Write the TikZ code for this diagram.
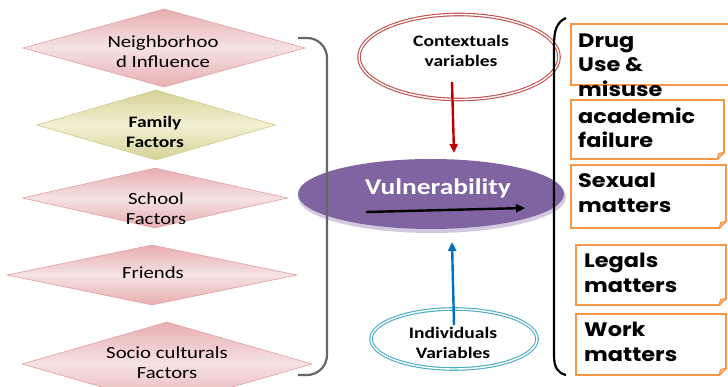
\documentclass[tikz,border=0pt]{standalone}
\usepackage{fontspec}
\setmainfont[FakeStretch=1.22]{Carlito}
\newfontfamily\gfont[FakeStretch=1.15]{Poppins}
\usetikzlibrary{shapes.geometric,arrows.meta,calc}
\definecolor{pinkedge}{HTML}{DFA0A2}
\definecolor{pinkdark}{HTML}{E8AEB0}
\definecolor{pinklight}{HTML}{F6E2E2}
\definecolor{oliveedge}{HTML}{CFCB8A}
\definecolor{olivedark}{HTML}{D6D296}
\definecolor{olivelight}{HTML}{F2F0D2}
\definecolor{ctxred}{HTML}{C0504D}
\definecolor{indblue}{HTML}{4BACC6}
\definecolor{vulpurple}{HTML}{8064A2}
\definecolor{noteorange}{HTML}{F79646}
\definecolor{foldorange}{HTML}{F9B27A}
\definecolor{arrred}{HTML}{C00000}
\definecolor{arrblue}{HTML}{0070C0}
\begin{document}
\begin{tikzpicture}[x=1pt,y=-1pt,
  pinkdia/.style={diamond, inner sep=0pt, draw=pinkedge, line width=0.6pt,
     top color=pinkdark, bottom color=pinkdark, middle color=pinklight},
  olivedia/.style={diamond, inner sep=0pt, draw=oliveedge, line width=0.6pt,
     top color=olivedark, bottom color=olivedark, middle color=olivelight},
  diatext/.style={align=center, inner sep=0pt, font=\fontsize{17}{20}\selectfont, text=black},
  boldtext/.style={align=center, inner sep=0pt, font=\bfseries\fontsize{16}{20}\selectfont, text=black},
  notebox/.style={rectangle, inner sep=0pt, draw=noteorange, line width=2pt, fill=white},
  notetext/.style={anchor=west, align=left, inner sep=0pt, font=\gfont\bfseries\fontsize{19.5}{24.5}\selectfont},
  arr/.style={line width=2.4pt, -{Triangle[length=9pt,width=8pt]}}
]
\useasboundingbox (0,0) rectangle (728,387);
\clip (0,0) rectangle (728,387);
\fill[white] (0,0) rectangle (728,387);

% left diamonds
\node[pinkdia, minimum width=282, minimum height=78] (d1) at (164,48) {};
\node[diatext] (t1) at (163,52) {Neighborhoo\\d Influence};
\node[olivedia, minimum width=239, minimum height=70] (d2) at (156,125) {};
\node[boldtext] (t2) at (155,132) {Family\\Factors};
\node[pinkdia, minimum width=265, minimum height=60] (d3) at (155,198) {};
\node[diatext] (t3) at (156,209) {School\\Factors};
\node[pinkdia, minimum width=290, minimum height=60] (d4) at (152,275) {};
\node[diatext] (t4) at (153,273) {Friends};
\node[pinkdia, minimum width=290, minimum height=84] (d5) at (167,364) {};
\node[diatext] (t5) at (167,363) {Socio culturals\\Factors};

% central ellipses
\node[ellipse, draw=ctxred, double=white, double distance=1.4pt, line width=1.1pt,
  minimum width=200, minimum height=85, inner sep=0pt] (ctx) at (459,57) {};
\node[boldtext] (ctxt) at (461,51) {Contextuals\\variables};

\node[ellipse, fill=vulpurple!35!white, minimum width=268, minimum height=72, inner sep=0pt] (vulsh) at (432,197) {};
\node[ellipse, fill=vulpurple, minimum width=266, minimum height=70, inner sep=0pt] (vul) at (431,194) {};
\node[inner sep=0pt, text=white, font=\bfseries\fontsize{22.5}{24}\selectfont] (vult) at (438,188) {Vulnerability};

\node[ellipse, draw=indblue, double=white, double distance=1.4pt, line width=1.1pt,
  minimum width=166, minimum height=60, inner sep=0pt] (ind) at (454,339) {};
\node[boldtext] (indt) at (453,343) {Individuals\\Variables};

% arrows
\coordinate (ra) at (452,82);
\coordinate (rb) at (454,153);
\draw[arr, draw=arrred] (ra) -- (rb);
\coordinate (ka) at (366,212);
\coordinate (kb) at (525,208);
\draw[arr, draw=black] (ka) -- (kb);
\coordinate (ba) at (454,325);
\coordinate (bb) at (452,242);
\draw[arr, draw=arrblue] (ba) -- (bb);

% brackets
\coordinate (g1) at (298,38);
\coordinate (g2) at (327,38);
\coordinate (g3) at (327,375);
\coordinate (g4) at (298,375);
\draw[gray!80!black, line width=2.2pt, rounded corners=20pt] (g1) -- (g2) -- (g3) -- (g4);
\coordinate (k1) at (566,18);
\coordinate (k2) at (554,45);
\coordinate (k3) at (554,355);
\coordinate (k4) at (566,375);
\draw[black, line width=2.2pt] (k1) .. controls (557,22) and (554,30) .. (k2) -- (k3)
  .. controls (554,368) and (558,373) .. (k4);

% right notes
\node[notebox, minimum width=164, minimum height=61] (b1) at (653,54.5) {};
\node[notebox, minimum width=153, minimum height=59] (b2) at (647.5,129.5) {};
\node[notebox, minimum width=155, minimum height=63] (b3) at (648.5,196.5) {};
\node[notebox, minimum width=150, minimum height=60] (b4) at (651,275) {};
\node[notebox, minimum width=150, minimum height=61] (b5) at (651,344.5) {};
\foreach \b in {b2,b3,b4,b5}{
  \fill[white] ($(\b.south east)+(-9,1.5)$) -- ($(\b.south east)+(1.5,1.5)$) -- ($(\b.south east)+(1.5,-9)$) -- cycle;
  \filldraw[fill=foldorange, draw=noteorange, line width=1pt, line join=round]
    ($(\b.south east)+(-8,0)$) -- ($(\b.south east)+(0,-8)$) -- ($(\b.south east)+(-6.5,-6.5)$) -- cycle;
}
\node[notetext] (n1) at (578,65) {Drug\\Use \&\\misuse};
\node[notetext] (n2) at (578,128) {academic\\failure};
\node[notetext] (n3) at (578,193) {Sexual\\matters};
\node[notetext] (n4) at (584,273) {Legals\\matters};
\node[notetext] (n5) at (584,342) {Work\\matters};
\end{tikzpicture}
\end{document}
